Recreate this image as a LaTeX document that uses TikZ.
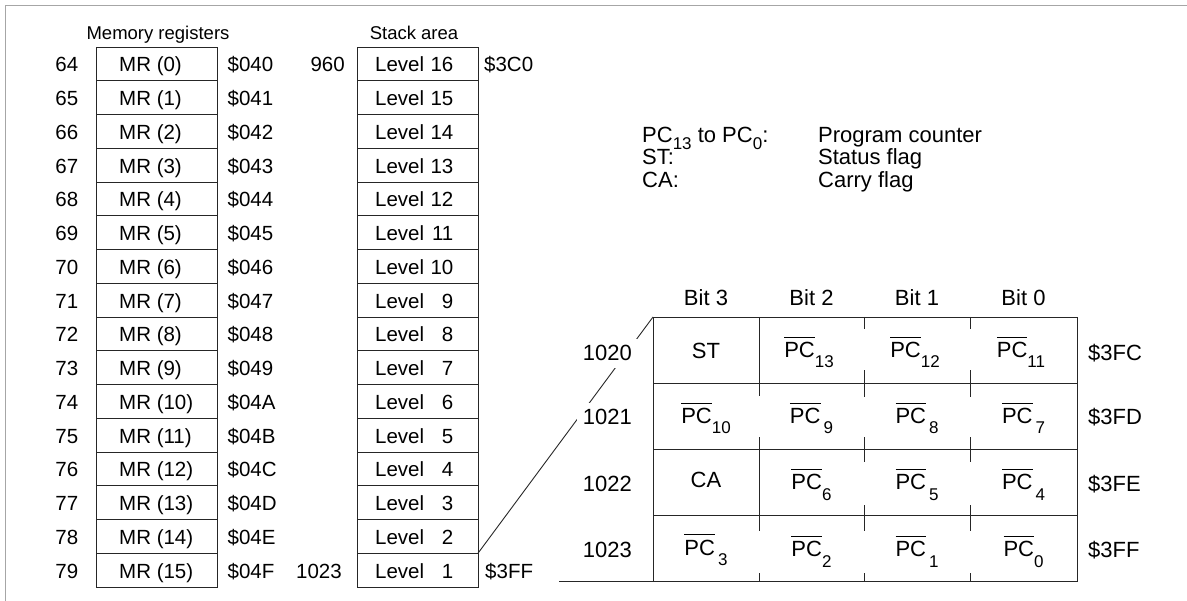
\documentclass[tikz,border=0pt]{standalone}
\usepackage{fontspec}
\setmainfont{Liberation Sans}
\newcommand\npc[2]{\begingroup\setbox0\hbox{PC}\vbox{\hrule height 0.8pt\kern 4.5pt\box0}\endgroup\kern#1\raisebox{-10pt}{\fontsize{17}{17}\selectfont #2}}
\newcommand\lsub[1]{\raisebox{-7pt}{\fontsize{17}{17}\selectfont #1}}
\begin{document}
\begin{tikzpicture}[x=1pt,y=-1pt,
  box/.style={draw=black!85,line width=0.9pt},
  frameline/.style={draw=black!35,line width=1.8pt},
  coltext/.style={font=\fontsize{20.5}{24}\selectfont,inner sep=0pt},
  headtext/.style={font=\fontsize{18.5}{22}\selectfont,inner sep=0pt,anchor=base},
  tabtext/.style={font=\fontsize{22}{26}\selectfont,inner sep=0pt,anchor=base},
  legtext/.style={font=\fontsize{22}{26}\selectfont,inner sep=0pt,anchor=base west},
  rowlabel/.style={font=\fontsize{22}{26}\selectfont,fill=white,inner xsep=6pt,inner ysep=7pt,anchor=base east},
  addrlabel/.style={font=\fontsize{22}{26}\selectfont,inner sep=0pt,anchor=base west},
]
\useasboundingbox (0,0) rectangle (1187,601);
% frame
\coordinate (fb) at (5.5,601);
\coordinate (fc) at (5.5,5.5);
\coordinate (fr) at (1187,5.5);
\draw[frameline] (fb) -- (fc) -- (fr);
% headers
\node[headtext] (hmr) at (158,40) {Memory registers};
\node[headtext] (hst) at (414,40) {Stack area};
% columns
\foreach \i/\h in {0/0,1/1,2/2,3/3,4/4,5/5,6/6,7/7,8/8,9/9,10/A,11/B,12/C,13/D,14/E,15/F}{
  \pgfmathsetmacro\yt{47+33.75*\i}
  \pgfmathsetmacro\yb{\yt+33.75}
  \pgfmathsetmacro\yl{\yt+25}
  \pgfmathtruncatemacro\dec{64+\i}
  \pgfmathtruncatemacro\lev{16-\i}
  \draw[box] (96,\yt) rectangle (217,\yb);
  \draw[box] (357,\yt) rectangle (478,\yb);
  \node[coltext,anchor=base east] (n\i) at (78.5,\yl) {\dec};
  \node[coltext,anchor=base west] (m\i) at (119,\yl) {MR (\i)};
  \node[coltext,anchor=base west] (a\i) at (227.5,\yl) {\$04\h};
  \node[coltext,anchor=base west] (lv\i) at (375,\yl) {Level};
  \node[coltext,anchor=base east] (ln\i) at (453.5,\yl) {\lev};
}
\node[coltext,anchor=base east] (s960) at (345,72) {960};
\node[coltext,anchor=base west] (s3c0) at (484,72) {\$3C0};
\node[coltext,anchor=base east] (s1023) at (342,578.25) {1023};
\node[coltext,anchor=base west] (s3ff) at (485,578.25) {\$3FF};
% legend
\node[legtext] (lg1) at (642,142.7) {PC\lsub{13} to PC\lsub{0}:};
\node[legtext] (lg1b) at (818,142.7) {Program counter};
\node[legtext] (lg2) at (642,165) {ST:};
\node[legtext] (lg2b) at (818,165) {Status flag};
\node[legtext] (lg3) at (642,187.5) {CA:};
\node[legtext] (lg3b) at (818,187.5) {Carry flag};
% zoom line
\coordinate (sc) at (478,553.25);
\coordinate (tc) at (653,317);
\draw[box] (sc) -- (tc);
% table
\draw[box] (653,317) rectangle (1077,581);
\foreach \y in {383,449,515} \draw[box] (653,\y) -- (1077,\y);
\coordinate (bl) at (559,581);
\coordinate (br) at (653,581);
\draw[box] (bl) -- (br);
\draw[box] (759,317) -- (759,383);
\draw[box] (759,449) -- (759,515);
\foreach \x/\ya/\yb/\ta/\tb in {759/383/449/13/12,759/515/581/16/8,
  864/317/383/12/13,864/383/449/14/12,864/449/515/13/10,864/515/581/16/8,
  970/317/383/12/13,970/383/449/14/12,970/449/515/13/10,970/515/581/16/8}{
  \draw[box] (\x,\ya) -- ++(0,\ta);
  \draw[box] (\x,\yb) -- ++(0,-\tb);
}
% bit headers
\node[tabtext] (b3) at (706,306) {Bit 3};
\node[tabtext] (b2) at (811.5,306) {Bit 2};
\node[tabtext] (b1) at (917,306) {Bit 1};
\node[tabtext] (b0) at (1023.5,306) {Bit 0};
% row labels
\node[rowlabel] (r1020) at (638,361) {1020};
\node[rowlabel] (r1021) at (638,425) {1021};
\node[rowlabel] (r1022) at (638,491.5) {1022};
\node[rowlabel] (r1023) at (638,558) {1023};
\node[addrlabel] (h3fc) at (1088,361) {\$3FC};
\node[addrlabel] (h3fd) at (1088,425) {\$3FD};
\node[addrlabel] (h3fe) at (1088,491.5) {\$3FE};
\node[addrlabel] (h3ff) at (1088,558) {\$3FF};
% cells
\node[tabtext] (c00) at (706,359) {ST};
\node[tabtext] (c01) at (809,358) {\npc{0pt}{13}};
\node[tabtext] (c02) at (915,358) {\npc{0pt}{12}};
\node[tabtext] (c03) at (1021,358) {\npc{0pt}{11}};
\node[tabtext] (c10) at (706,424) {\npc{0pt}{10}};
\node[tabtext] (c11) at (811.5,424) {\npc{3pt}{9}};
\node[tabtext] (c12) at (917,424) {\npc{3pt}{8}};
\node[tabtext] (c13) at (1023.5,424) {\npc{3pt}{7}};
\node[tabtext] (c20) at (706,488) {CA};
\node[tabtext] (c21) at (811.5,490) {\npc{0pt}{6}};
\node[tabtext] (c22) at (917,490) {\npc{3pt}{5}};
\node[tabtext] (c23) at (1023.5,490) {\npc{3pt}{4}};
\node[tabtext] (c30) at (706,555) {\npc{3pt}{3}};
\node[tabtext] (c31) at (811.5,557) {\npc{0pt}{2}};
\node[tabtext] (c32) at (917,557) {\npc{3pt}{1}};
\node[tabtext] (c33) at (1023.5,557) {\npc{0pt}{0}};
\end{tikzpicture}
\end{document}
